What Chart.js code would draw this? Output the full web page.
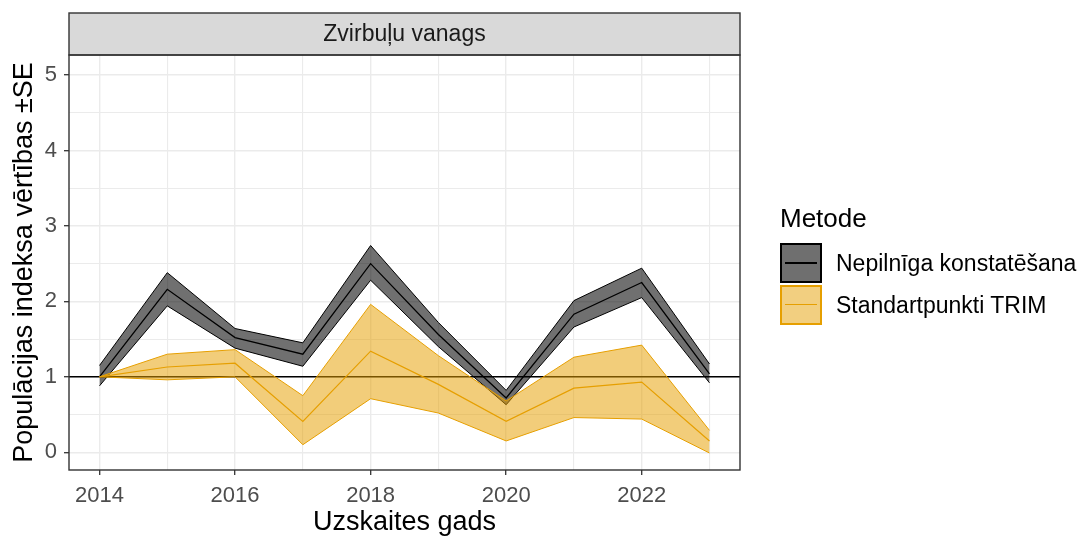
<!DOCTYPE html>
<html>
<head>
<meta charset="utf-8">
<script src="https://cdn.jsdelivr.net/npm/chart.js@4"></script>
<style>
  body { margin: 0; background: #fff; font-family: "Liberation Sans", Arial, sans-serif; }
  #wrap { position: relative; width: 1082px; height: 539px; }
  #legend { position: absolute; left: 780px; top: 200px; color: #000; }
  #legend .title { font-size: 26px; height: 42px; line-height: 36px; }
  #legend .item { display: flex; align-items: center; height: 42px; }
  #legend .key { position: relative; width: 42px; height: 40px; box-sizing: border-box; margin-right: 14px; }
  #legend .key span { position: absolute; left: 3px; right: 3px; top: 50%; height: 0; margin-top: -1px; }
  #legend .label { font-size: 23px; }
</style>
</head>
<body>
<div id="wrap">
  <canvas id="chart" width="1082" height="539"></canvas>
  <div id="legend"></div>
</div>
<script>
// years
const years = [2014, 2015, 2016, 2017, 2018, 2019, 2020, 2021, 2022, 2023];
const xTicks = [2014, 2015, 2016, 2017, 2018, 2019, 2020, 2021, 2022, 2023];
const yTicks = [0, 0.5, 1, 1.5, 2, 2.5, 3, 3.5, 4, 4.5, 5];

// Nepilnīga konstatēšana
const nepMean  = [1.00, 2.16, 1.52, 1.30, 2.50, 1.56, 0.72, 1.83, 2.25, 1.04];
const nepLower = [0.88, 1.94, 1.38, 1.14, 2.28, 1.40, 0.63, 1.66, 2.05, 0.92];
const nepUpper = [1.15, 2.38, 1.64, 1.45, 2.74, 1.72, 0.82, 2.01, 2.44, 1.17];

// Standartpunkti TRIM
const trimMean  = [1.00, 1.13, 1.18, 0.41, 1.34, 0.90, 0.41, 0.85, 0.93, 0.15];
const trimLower = [1.00, 0.96, 1.00, 0.10, 0.71, 0.52, 0.15, 0.46, 0.44, -0.01];
const trimUpper = [1.00, 1.30, 1.36, 0.75, 1.96, 1.28, 0.68, 1.26, 1.42, 0.29];

const seriesNames = ['Nepilnīga konstatēšana', 'Standartpunkti TRIM'];
const refValue = 1;
const panelTitle = 'Zvirbuļu vanags';
const legendTitle = 'Metode';

const grayFill = 'rgba(0,0,0,0.56)';
const orange = '#E69F00';
const orangeFill = 'rgba(230,159,0,0.52)';

const pts = arr => arr.map((v, i) => ({ x: years[i], y: v }));

function line(data, color, width, fill, bg, order) {
    return {
        data: pts(data),
        borderColor: color,
        borderWidth: width,
        backgroundColor: bg || 'transparent',
        fill: fill || false,
        pointRadius: 0,
        tension: 0,
        order: order
    };
}

const datasets = [
    line(nepLower, '#000', 1, false, null, 2),
    line(nepUpper, '#000', 1, '-1', grayFill, 2),
    line(nepMean, '#000', 1.3, false, null, 2),
    line(trimLower, orange, 1, false, null, 1),
    line(trimUpper, orange, 1, '-1', orangeFill, 1),
    line(trimMean, orange, 1.2, false, null, 1)
];

const FONT = '"Liberation Sans", Arial, sans-serif';

// panel strip, reference line and border
const panelPlugin = {
    id: 'panel',
    beforeDatasetsDraw(chart) {
        const { ctx, chartArea: a, scales } = chart;
        const y = scales.y.getPixelForValue(refValue);
        ctx.save();
        ctx.strokeStyle = '#000';
        ctx.lineWidth = 1.4;
        ctx.beginPath();
        ctx.moveTo(a.left, y);
        ctx.lineTo(a.right, y);
        ctx.stroke();
        ctx.restore();
    },
    afterDraw(chart) {
        const { ctx, chartArea: a } = chart;
        ctx.save();
        ctx.fillStyle = '#D9D9D9';
        ctx.fillRect(a.left, 13, a.right - a.left, a.top - 13);
        ctx.strokeStyle = '#333333';
        ctx.lineWidth = 1.4;
        ctx.strokeRect(a.left, 13, a.right - a.left, a.top - 13);
        ctx.strokeRect(a.left, a.top, a.right - a.left, a.bottom - a.top);
        ctx.fillStyle = '#1A1A1A';
        ctx.font = '23px ' + FONT;
        ctx.textAlign = 'center';
        ctx.textBaseline = 'middle';
        ctx.fillText(panelTitle, (a.left + a.right) / 2, (13 + a.top) / 2 + 1);
        ctx.restore();
    }
};

new Chart(document.getElementById('chart'), {
    type: 'line',
    data: { datasets: datasets },
    plugins: [panelPlugin],
    options: {
        responsive: false,
        animation: false,
        layout: { padding: { top: 55, right: 342, left: 0, bottom: 0 } },
        plugins: { legend: { display: false }, tooltip: { enabled: false } },
        scales: {
            x: {
                type: 'linear',
                min: 2013.55,
                max: 2023.45,
                afterFit: s => { s.height = 69; },
                afterBuildTicks: s => { s.ticks = xTicks.map(v => ({ value: v })); },
                ticks: {
                    autoSkip: false,
                    maxRotation: 0,
                    padding: 8,
                    color: '#4D4D4D',
                    font: { family: FONT, size: 22 },
                    callback: v => (v % 2 === 0 ? String(v) : '')
                },
                grid: {
                    color: '#EBEBEB',
                    lineWidth: c => (c.tick && c.tick.value % 2 === 0 ? 1.4 : 1.1),
                    tickColor: c => (c.tick && c.tick.value % 2 === 0 ? '#333333' : 'rgba(0,0,0,0)'),
                    tickLength: 5,
                    tickWidth: 1.3
                },
                border: { display: false },
                title: {
                    display: true,
                    text: 'Uzskaites gads',
                    color: '#000',
                    font: { family: FONT, size: 27 },
                    padding: { top: 0, bottom: 0 }
                }
            },
            y: {
                type: 'linear',
                min: -0.235,
                max: 5.265,
                afterFit: s => { s.width = 69; },
                afterBuildTicks: s => { s.ticks = yTicks.map(v => ({ value: v })); },
                ticks: {
                    autoSkip: false,
                    padding: 7,
                    color: '#4D4D4D',
                    font: { family: FONT, size: 22 },
                    callback: v => (v % 1 === 0 ? String(v) : '')
                },
                grid: {
                    color: '#EBEBEB',
                    lineWidth: c => (c.tick && c.tick.value % 1 === 0 ? 1.4 : 1.1),
                    tickColor: c => (c.tick && c.tick.value % 1 === 0 ? '#333333' : 'rgba(0,0,0,0)'),
                    tickLength: 5,
                    tickWidth: 1.3
                },
                border: { display: false },
                title: {
                    display: true,
                    text: 'Populācijas indeksa vērtības ±SE',
                    color: '#000',
                    font: { family: FONT, size: 27 },
                    padding: { top: 8, bottom: 0 }
                }
            }
        }
    }
});

// legend
const legendKeys = [
    { fill: '#6F6F6F', edge: '#000', line: '#000', lw: 2 },
    { fill: '#F2CF80', edge: orange, line: orange, lw: 1.5 }
];
const legend = document.getElementById('legend');
legend.innerHTML = '<div class="title">' + legendTitle + '</div>' +
    seriesNames.map((name, i) =>
        '<div class="item"><div class="key" style="background:' + legendKeys[i].fill +
        ';border:2px solid ' + legendKeys[i].edge + '"><span style="border-top:' + legendKeys[i].lw +
        'px solid ' + legendKeys[i].line + '"></span></div><div class="label">' + name + '</div></div>'
    ).join('');
</script>
</body>
</html>
